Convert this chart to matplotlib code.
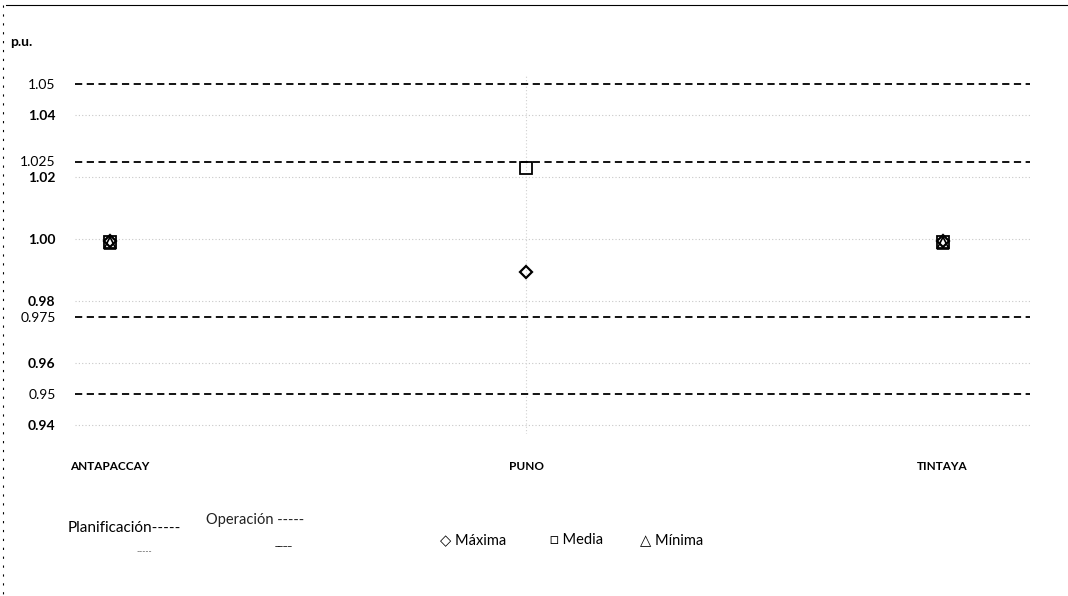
import matplotlib
matplotlib.use("Agg")
import matplotlib.pyplot as plt
import numpy as np
from matplotlib.lines import Line2D

categories = ["ANTAPACCAY", "PUNO", "TINTAYA"]
maxima = [0.9992, 0.9894, 0.9992]
media = [0.9990, 1.0229, 0.9990]
minima = [0.9988, np.nan, 0.9988]

plan_limits = [1.05, 0.95]
oper_limits = [1.025, 0.975]

major_ticks = [0.94, 0.96, 0.98, 1.00, 1.02, 1.04]
major_labels = ["0.94", "0.96", "0.98", "1.00", "1.02", "1.04"]
limit_labels = ["1.05", "1.025", "0.975", "0.95"]
limit_ticks = [1.05, 1.025, 0.975, 0.95]

W, H = 1068, 596
plt.rcParams['font.family'] = ['Lato', 'DejaVu Sans']
fig = plt.figure(figsize=(W / 100, H / 100), dpi=100)

ax_l, ax_r = 75 / W, 1030 / W
ax_b, ax_t = 1 - 434.3 / H, 1 - 74.7 / H
ax = fig.add_axes([ax_l, ax_b, ax_r - ax_l, ax_t - ax_b])

x = np.arange(len(categories))
ax.set_xlim(-0.084, 2.21)
ax.set_ylim(0.937, 1.053)

# faint grid
for v in major_ticks:
    ax.axhline(v, color="#c8c8c8", lw=0.8, ls=(0, (1, 2)), zorder=1)
ax.axvline(1, color="#d0d0d0", lw=0.8, ls=(0, (1, 2)), zorder=1)

for v in plan_limits + oper_limits:
    ax.axhline(v, color="black", lw=1.3, ls=(0, (4, 2.5)), zorder=2)

ax.plot(x, maxima, ls="none", marker="D", ms=6, mfc="none", mec="black", mew=1.6, zorder=4)
ax.plot(x, media, ls="none", marker="s", ms=8, mfc="none", mec="black", mew=1.3, zorder=4)
ax.plot(x, minima, ls="none", marker="^", ms=8, mfc="none", mec="black", mew=1.2, zorder=4)

for s in ax.spines.values():
    s.set_visible(False)
ax.tick_params(length=0)
ax.set_xticks([])
ticks = major_ticks + limit_ticks
labels = major_labels + limit_labels
ax.set_yticks(ticks)
ax.set_yticklabels(labels)
for t, lab in zip(ax.get_yticklabels(), labels):
    t.set_fontsize(10)
    t.set_fontweight("bold" if lab in major_labels else "normal")
ax.tick_params(axis="y", pad=14)

# category labels
for xi, c in zip(x, categories):
    ax.annotate(c, xy=(xi, 0.937), xycoords="data", xytext=(0, -23),
                textcoords="offset points", ha="center", va="center",
                fontsize=8.5, fontweight="bold")

def fx(px):
    return px / W

def fy(py):
    return 1 - py / H

fig.text(fx(10), fy(42), "p.u.", fontsize=10, fontweight="bold", va="center", ha="left")

# legend texts
fig.text(fx(68), fy(528), "Planificación-----", fontsize=11, va="center", ha="left")
fig.text(fx(136), fy(552), "-----", fontsize=6, va="center", ha="left", color="#444444")
fig.text(fx(206), fy(520), "Operación -----", fontsize=10.5, va="center", ha="left", color="#222222")
fig.text(fx(275), fy(543), "____", fontsize=7, va="center", ha="left")
fig.text(fx(440), fy(540), "◇ Máxima", fontsize=10.5, va="center", ha="left")
fig.text(fx(550), fy(540), "□ Media", fontsize=10.5, va="center", ha="left")
fig.text(fx(640), fy(540), "△ Mínima", fontsize=10.5, va="center", ha="left")

# frame lines
fig.add_artist(Line2D([fx(6), fx(1068)], [fy(5), fy(5)], color="black", lw=0.8))
fig.add_artist(Line2D([fx(3), fx(3)], [fy(5), fy(596)], color="black", lw=0.8, ls=(0, (2, 6))))

fig.savefig("out.png", dpi=100)
